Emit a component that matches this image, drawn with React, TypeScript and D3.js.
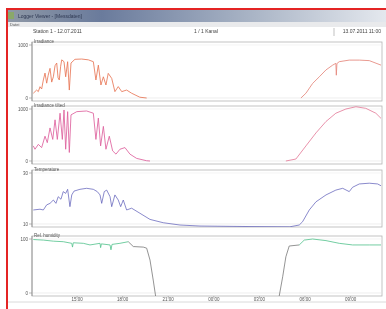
import * as React from 'react';
import * as d3 from 'd3';

// time axis in hours since midnight of day 1
const xTickHours = [15, 18, 21, 24, 27, 30, 33];
const xTickLabels = ['15:00', '18:00', '21:00', '00:00', '03:00', '06:00', '09:00'];

const panelTitles = ['Irradiance', 'Irradiance tilted', 'Temperature', 'Rel. humidity'];
const panelDomains = [[0, 1000], [0, 1000], [10, 30], [0, 100]];
const panelTickLabels = [['1000', '0'], ['1000', '0'], ['30', '10'], ['100', '0']];

const irradianceDay1 = [
  [12.12, 90], [12.34, 150], [12.45, 120], [12.56, 213], [12.67, 170], [12.78, 340], [12.89, 470],
  [13.0, 280], [13.1, 430], [13.22, 560], [13.33, 300], [13.44, 400], [13.55, 610], [13.66, 660],
  [13.75, 380], [13.83, 340], [13.92, 600], [13.99, 720], [14.14, 685], [14.25, 400], [14.38, 685],
  [14.49, 150], [14.6, 660], [14.86, 730], [15.3, 735], [15.74, 720], [16.07, 685], [16.24, 340],
  [16.4, 620], [16.57, 245], [16.73, 400], [16.9, 245], [17.05, 465], [17.28, 370], [17.49, 120],
  [17.71, 215], [17.94, 120], [18.26, 150], [18.59, 90], [19.13, 15], [19.58, 0],
];
const irradianceDay2 = [
  [29.73, 0], [30.06, 90], [30.5, 275], [30.94, 400], [31.38, 530], [31.82, 620], [32.03, 655],
  [32.06, 430], [32.1, 650], [32.25, 685], [32.91, 715], [33.57, 715], [34.23, 705], [35.0, 620],
];

const tiltedDay1 = [
  [12.12, 290], [12.23, 226], [12.45, 320], [12.67, 258], [12.89, 477], [13.04, 353], [13.22, 636],
  [13.4, 415], [13.55, 792], [13.7, 415], [13.88, 919], [14.03, 415], [14.14, 981], [14.25, 226],
  [14.38, 949], [14.49, 164], [14.6, 887], [14.98, 949], [15.63, 962], [16.07, 919], [16.24, 415],
  [16.4, 825], [16.55, 290], [16.73, 666], [16.9, 226], [17.12, 477], [17.34, 195], [17.56, 132],
  [17.82, 226], [18.15, 258], [18.48, 132], [18.92, 50], [19.58, 5], [19.8, 0],
];
const tiltedDay2 = [
  [28.74, 0], [29.4, 38], [30.06, 290], [30.72, 540], [31.38, 760], [32.03, 919], [32.69, 1000],
  [33.35, 1043], [34.0, 1013], [34.66, 919], [35.0, 820],
];

const temperature = [
  [12.12, 15.5], [12.56, 15.8], [12.78, 15.5], [13.0, 17.5], [13.22, 18.1], [13.44, 19.4],
  [13.61, 18.1], [13.76, 20.7], [13.94, 19.7], [14.09, 22.7], [14.25, 22.0], [14.38, 23.6],
  [14.53, 16.8], [14.65, 21.4], [14.8, 22.9], [15.19, 23.6], [15.63, 24.0], [16.07, 23.6],
  [16.33, 22.7], [16.51, 21.4], [16.62, 18.1], [16.79, 22.7], [16.95, 23.3], [17.17, 20.7],
  [17.28, 16.8], [17.49, 21.4], [17.71, 19.4], [17.87, 16.8], [18.04, 19.4], [18.26, 15.5],
  [18.59, 16.2], [19.14, 14.2], [19.8, 11.8], [20.67, 10.5], [21.77, 9.6], [23.09, 9.2],
  [26.38, 9.0], [29.0, 8.9], [29.62, 9.6], [29.84, 10.9], [30.28, 15.5], [30.72, 18.7],
  [31.38, 21.4], [32.03, 23.3], [32.48, 24.0], [32.91, 22.7], [33.13, 24.4], [33.57, 25.7],
  [34.23, 26.0], [34.78, 25.7], [35.0, 25.0],
];

const humidityDay = [
  [12.12, 99], [12.78, 98], [13.44, 96], [14.09, 95], [14.65, 92], [14.7, 85], [14.75, 93],
  [15.41, 92], [15.85, 89], [16.51, 92], [16.55, 84], [16.6, 91], [17.17, 89], [17.23, 80],
  [17.3, 90], [17.82, 92], [18.37, 95],
];
const humidityEvening = [
  [18.37, 95], [18.7, 86], [19.36, 85], [19.58, 83], [19.8, 61], [20.01, 24], [20.17, -6],
];
const humidityDawn = [
  [28.3, -6], [28.53, 30], [28.74, 67], [28.96, 87], [29.62, 89],
];
const humidityMorning = [
  [29.62, 89], [29.95, 98], [30.5, 100], [31.38, 97], [32.25, 92], [33.13, 89], [34.23, 89], [35.0, 89],
];

const panelSeries = [
  [{ data: irradianceDay1, color: '#e4603a' }, { data: irradianceDay2, color: '#e07266' }],
  [{ data: tiltedDay1, color: '#d8468c' }, { data: tiltedDay2, color: '#e0688a' }],
  [{ data: temperature, color: '#5c5cb8' }],
  [
    { data: humidityDay, color: '#3dbb7e' },
    { data: humidityEvening, color: '#6a6a6a' },
    { data: humidityDawn, color: '#6a6a6a' },
    { data: humidityMorning, color: '#3dbb7e' },
  ],
];

const W = 386;
const H = 309;
const left = 32;
const right = 382;
const frames = [[42, 101], [106, 164], [170, 227], [236, 296]];
const font = 'Liberation Sans, Arial, sans-serif';

export default function App() {
  const x = d3.scaleLinear().domain([12.1, 35]).range([33, 381]);

  return (
    <svg width={W} height={H} style={{ position: 'absolute', left: 0, top: 0, filter: 'blur(0.5px)' }}
      fontFamily={font}>
      <defs>
        <linearGradient id="titlebar" x1="0" x2="1" y1="0" y2="0">
          <stop offset="0" stopColor="#8e98a6" />
          <stop offset="0.25" stopColor="#6a7b9c" />
          <stop offset="0.65" stopColor="#aab5c6" />
          <stop offset="1" stopColor="#e4e8ee" />
        </linearGradient>
        {frames.map((f, i) => (
          <clipPath id={`clip${i}`} key={i}>
            <rect x={left} y={f[0]} width={right - left} height={f[1] - f[0]} />
          </clipPath>
        ))}
      </defs>
      <rect width={W} height={H} fill="#fff" />

      {/* window chrome */}
      <rect x={7} y={10} width={W - 7} height={12} fill="url(#titlebar)" />
      <rect x={8} y={12} width={6} height={7} fill="#8aa86a" />
      <text x={18} y={18} fontSize={5} fill="#2c3650">Logger Viewer - [Messdaten]</text>
      <rect x={7} y={22} width={W - 7} height={5} fill="#e9eaec" />
      <text x={10} y={26} fontSize={4} fill="#555">Datei</text>
      <text x={33} y={33} fontSize={5} fill="#444">Station 1 - 12.07.2011</text>
      <text x={206} y={33} fontSize={5} fill="#444" textAnchor="middle">1 / 1 Kanal</text>
      <text x={381} y={33} fontSize={5} fill="#444" textAnchor="end">13.07.2011 11:00</text>
      <line x1={334} x2={334} y1={28} y2={36} stroke="#999" strokeWidth={0.6} />

      {frames.map((f, i) => {
        const y = d3.scaleLinear().domain(panelDomains[i]).range([f[1] - 3, f[0] + 3]);
        const line = d3.line<number[]>().x(d => x(d[0])).y(d => y(d[1]));
        const [d0, d1] = panelDomains[i];
        return (
          <g key={i}>
            <rect x={left} y={f[0]} width={right - left} height={f[1] - f[0]} fill="#fff"
              stroke="#b4b4b4" strokeWidth={0.8} />
            <line x1={left} x2={right} y1={y(d1)} y2={y(d1)} stroke="#ececec" strokeWidth={0.6} />
            <line x1={left} x2={right} y1={y(d0)} y2={y(d0)} stroke="#e2e2e2" strokeWidth={0.6} />
            <line x1={left} x2={left} y1={f[0]} y2={f[1]} stroke="#8c8c8c" strokeWidth={0.8} />
            {[d1, d0].map((v, k) => (
              <g key={k}>
                <line x1={left - 3} x2={left} y1={y(v)} y2={y(v)} stroke="#8c8c8c" strokeWidth={0.6} />
                <text x={left - 4} y={y(v) + 1.6} fontSize={4.5} fill="#555" textAnchor="end">
                  {panelTickLabels[i][k]}
                </text>
              </g>
            ))}
            <text x={left + 2} y={f[0] + 1} fontSize={4.5} fill="#555">{panelTitles[i]}</text>
            <g clipPath={`url(#clip${i})`} opacity={0.85}>
              {panelSeries[i].map((s, k) => (
                <path key={k} d={line(s.data as number[][]) || ''} fill="none" stroke={s.color}
                  strokeWidth={0.85} strokeLinejoin="round" />
              ))}
            </g>
          </g>
        );
      })}

      {/* x axis */}
      {xTickHours.map((h, i) => (
        <g key={i}>
          <line x1={x(h)} x2={x(h)} y1={296} y2={298} stroke="#8c8c8c" strokeWidth={0.6} />
          <text x={x(h)} y={300.5} fontSize={4.5} fill="#555" textAnchor="middle">{xTickLabels[i]}</text>
        </g>
      ))}
      <line x1={7} x2={W} y1={302} y2={302} stroke="#d0d0d0" strokeWidth={0.8} />

      {/* outer highlight frame */}
      <path d={`M7,${H} V9 H${W}`} fill="none" stroke="#e42424" strokeWidth={2} />
    </svg>
  );
}
